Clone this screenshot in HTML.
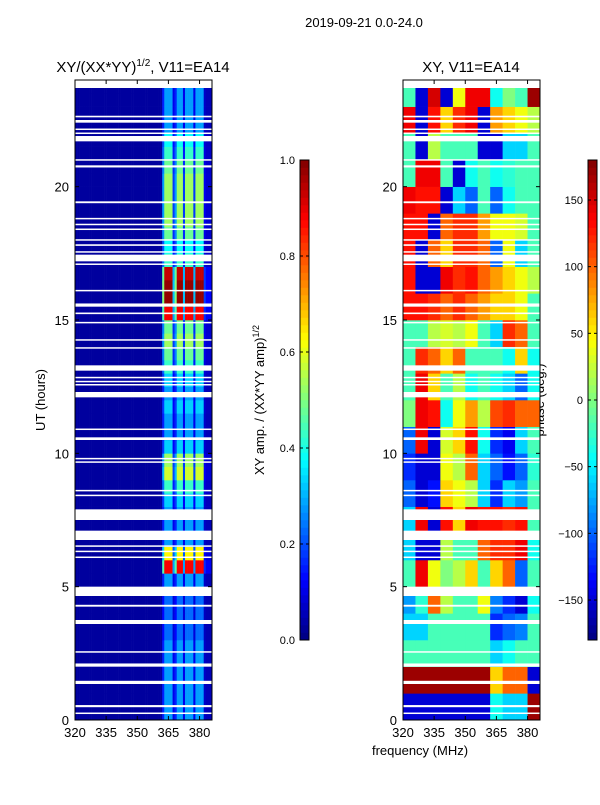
<!DOCTYPE html>
<html><head><meta charset="utf-8"><style>
body{margin:0;background:#fff;width:600px;height:800px;overflow:hidden}
svg{font-family:"Liberation Sans","DejaVu Sans",sans-serif}
</style></head><body>
<svg id="fig" width="600" height="800" xmlns="http://www.w3.org/2000/svg">
<text x="364" y="27" font-size="13" text-anchor="middle">2019-09-21 0.0-24.0</text>
<text x="143" y="72" font-size="15" text-anchor="middle">XY/(XX*YY)<tspan font-size="10" dy="-6">1/2</tspan><tspan dy="6">, V11=EA14</tspan></text>
<text x="471" y="72" font-size="15" text-anchor="middle">XY, V11=EA14</text>
<text transform="translate(45,400) rotate(-90)" font-size="13" text-anchor="middle">UT (hours)</text>
<text x="420" y="755" font-size="13" text-anchor="middle">frequency (MHz)</text>
<text transform="translate(264,400) rotate(-90)" font-size="13" text-anchor="middle">XY amp. / (XX*YY amp)<tspan font-size="9" dy="-5">1/2</tspan></text>
<text transform="translate(544,400) rotate(-90)" font-size="13" text-anchor="middle">phase (deg.)</text>
<g id="left"></g>
<g id="right"></g>
<g id="axes"></g>
</svg>
<script>
// ---- data ----
const freqStart = 320, freqEnd = 386;
const hourTicks = [0, 5, 10, 15, 20];
const freqTicks = [320, 335, 350, 365, 380];
const ampTicks = [0.0, 0.2, 0.4, 0.6, 0.8, 1.0];
const phaseTicks = [-150, -100, -50, 0, 50, 100, 150];
// amplitude column profile per 1 MHz channel 320..385
const ampColProfile = [0,0,0,0,0,0,0,0,0,0, 0,0,0,0,0,0,0,0,0,0, 0,0,0,0,0,0,0,0,0,0, 0,0,0,0,0,0,0,0,0,0, 0,0,
 0.25,0.5,0.5,0.5,0.5,0.15,0.25,0.5,0.5,0.5,0.15,0.5,0.5,0.5,0.5,0.15,0.5,0.5,0.5,0.5,0.08,0.05,0.05,0.05];
// per half-hour gain 0..24h
const ampRowGain = [0.5,0.5,0.5,0.5,0.5,0.5,0.4,0.4,0.4,0.4,0.5,1.7,1.2,0.5,0.5,0.5,0.6,0.8,1.1,1.0,
 0.6,0.5,0.5,0.6,0.5,0.6,0.8,0.9,1.0,0.9,1.7,1.9,1.9,1.8,0.8,0.7,0.9,1.0,1.0,1.0,1.0,0.9,0.8,0.7,0.5,0.5,0.5,0.5];
// phase (deg) per hour (rows) and 6 MHz band (cols)
const phaseRows = [
[-150,-150,-150,-150,-150,-150,-150,-40,-60,-60,170],
[170,170,170,170,170,170,170,60,100,100,-150],
[-20,-20,-20,-20,-20,-20,-20,-60,-40,-20,-20],
[-60,-60,-20,-20,-20,-20,-20,-120,-100,-90,-20],
[-80,-30,100,20,-20,-20,40,-90,-120,-150,-40],
[-20,140,40,0,20,60,-20,60,100,-100,-20],
[-60,-150,-150,20,-20,-20,100,120,120,140,-40],
[-60,140,-150,130,60,140,130,130,120,130,-20],
[-100,-150,-130,60,40,20,-60,-120,-60,-80,-20],
[-120,-150,-150,40,20,100,-60,-100,-130,-100,-30],
[-100,140,-150,30,60,130,-40,-120,-140,-60,-20],
[0,140,130,-40,40,80,20,110,120,100,100],
[-20,140,60,-20,20,-40,-20,-40,-60,-100,-40],
[-20,120,100,60,100,-20,-20,-20,-40,60,-40],
[-20,-20,20,30,20,40,-20,-60,120,100,-20],
[130,130,120,100,120,100,80,60,60,40,-20],
[130,-150,-150,140,120,130,100,80,60,40,20],
[130,-150,100,60,120,120,100,-100,40,-60,-20],
[130,130,-150,100,120,120,80,40,40,30,-20],
[140,130,130,-150,-60,-100,-20,-100,-40,-20,-20],
[-20,140,140,-20,-150,-40,-20,-40,-30,-20,-20],
[-20,-150,20,-20,-20,-20,-150,-150,-60,-60,-20],
[140,-150,130,60,120,140,-150,80,60,40,20],
[-20,-150,150,-150,40,140,140,-40,0,-20,170]];
// flagged (white) intervals in hours
const gaps = [[23.7,24],[22.6,22.66],[22.4,22.5],[22.13,22.18],[21.98,22.03],[21.7,21.9],[20.98,21.03],[20.72,20.8],
 [19.38,19.45],[18.78,18.83],[18.56,18.61],[18.38,18.43],[17.98,18.03],[17.78,17.84],[17.53,17.58],[17.2,17.45],[17.07,17.12],
 [16.08,16.13],[15.5,15.62],[15.22,15.28],[14.88,14.93],[14.23,14.28],[13.93,13.98],[13.1,13.3],[12.82,12.87],[12.68,12.72],
 [12.55,12.6],[12.1,12.3],[10.88,10.93],[10.5,10.6],[9.78,9.83],[9.66,9.7],[8.58,8.63],[8.4,8.45],[7.5,7.9],[6.75,7.1],
 [6.5,6.55],[6.3,6.35],[6.08,6.13],[4.65,5.0],[4.25,4.32],[3.6,3.75],[2.53,2.58],[2.0,2.12],[1.35,1.47],[0.48,0.56],[0.23,0.28]];

// ---- helpers ----
const NS = "http://www.w3.org/2000/svg";
function jet(v){v=Math.max(0,Math.min(1,v));
 const c=x=>Math.round(255*Math.max(0,Math.min(1,x)));
 return `rgb(${c(Math.min(4*v-1.5,-4*v+4.5))},${c(Math.min(4*v-0.5,-4*v+3.5))},${c(Math.min(4*v+0.5,-4*v+2.5))})`;}
function mk(tag,attrs,parent){const e=document.createElementNS(NS,tag);for(const k in attrs)e.setAttribute(k,attrs[k]);parent.appendChild(e);return e;}
const Y0=720,Y1=80;
const yScale=h=>Y0-(h/24)*(Y0-Y1);
function xScaleFor(x0){return f=>x0+(f-freqStart)/(freqEnd-freqStart)*137;}

// ---- left heatmap ----
const L=document.getElementById('left');
const xl=xScaleFor(75);
for(let r=0;r<ampRowGain.length;r++){
 for(let c=0;c<ampColProfile.length;c++){
  const v=0.03+ampColProfile[c]*ampRowGain[r];
  const el=mk('rect',{x:xl(freqStart+c),y:yScale((r+1)*0.5),width:xl(freqStart+c+1)-xl(freqStart+c)+0.3,height:yScale(r*0.5)-yScale((r+1)*0.5)+0.3,fill:jet(v)},L);
  
  
 }
}
// ---- right heatmap ----
const R=document.getElementById('right');
const xr=xScaleFor(403);
for(let r=0;r<phaseRows.length;r++){
 for(let c=0;c<phaseRows[r].length;c++){
  const f0=freqStart+c*6,f1=Math.min(freqEnd,f0+6);
  const el=mk('rect',{x:xr(f0),y:yScale(r+1),width:xr(f1)-xr(f0)+0.3,height:yScale(r)-yScale(r+1)+0.3,fill:jet((phaseRows[r][c]+180)/360)},R);
  
  
 }
}
// gaps
[[L,75],[R,403]].forEach(([g,x0])=>{gaps.forEach(([a,b])=>{
 const el=mk('rect',{x:x0,y:yScale(b),width:137,height:Math.max(1.5,yScale(a)-yScale(b)),fill:'#fff'},g);
 
 
});});

// ---- axes ----
const A=document.getElementById('axes');
[[75,xl,true],[403,xr,false]].forEach(([x0,xs,left])=>{
 const fr=mk('rect',{x:x0,y:Y1,width:137,height:Y0-Y1,fill:'none',stroke:'#000','stroke-width':1},A);
 
 
 freqTicks.forEach(f=>{const x=xs(f);
  mk('line',{x1:x,x2:x,y1:Y0,y2:Y0-4,stroke:'#000'},A);mk('line',{x1:x,x2:x,y1:Y1,y2:Y1+4,stroke:'#000'},A);
  const t=mk('text',{x:x,y:Y0+17,'font-size':13,'text-anchor':'middle'},A);t.textContent=f;
  
  });
 hourTicks.forEach(h=>{const y=yScale(h);
  mk('line',{x1:x0,x2:x0+4,y1:y,y2:y,stroke:'#000'},A);mk('line',{x1:x0+137,x2:x0+133,y1:y,y2:y,stroke:'#000'},A);
  const t=mk('text',{x:x0-6,y:y+5,'font-size':13,'text-anchor':'end'},A);t.textContent=h;
  
  });
});
// colorbars
function colorbar(x0,lo,hi,ticks,fmt,name){
 const g=mk('g',{},A);
 
 
 const N=64;for(let i=0;i<N;i++){mk('rect',{x:x0,y:640-(i+1)*480/N,width:9,height:480/N+0.3,fill:jet((i+0.5)/N)},g);}
 mk('rect',{x:x0,y:160,width:9,height:480,fill:'none',stroke:'#000'},g);
 ticks.forEach(v=>{const y=640-(v-lo)/(hi-lo)*480;
  mk('line',{x1:x0,x2:x0+3,y1:y,y2:y,stroke:'#000'},g);mk('line',{x1:x0+9,x2:x0+6,y1:y,y2:y,stroke:'#000'},g);
  const t=mk('text',{x:x0-5,y:y+4,'font-size':11,'text-anchor':'end'},g);t.textContent=fmt(v);
  
  });
}
colorbar(300,0,1,ampTicks,v=>v.toFixed(1),'amp-colorbar');
colorbar(588,-180,180,phaseTicks,v=>v<0?'\u2212'+(-v):''+v,'phase-colorbar');
</script>
</body></html>
